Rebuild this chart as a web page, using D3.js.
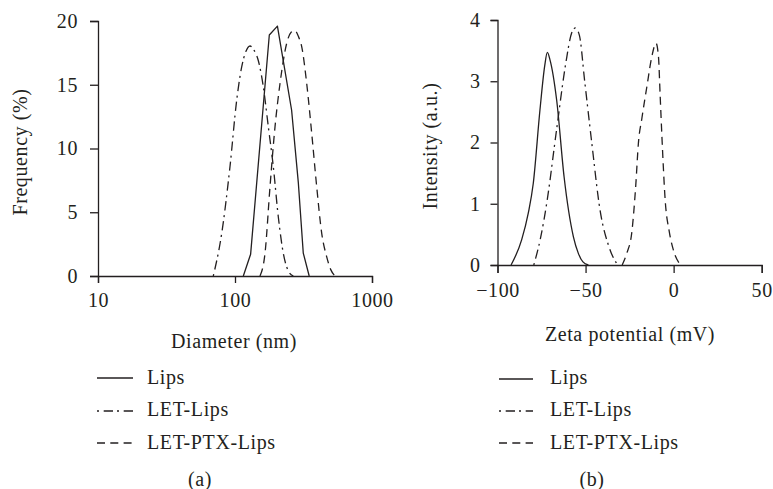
<!DOCTYPE html>
<html>
<head>
<meta charset="utf-8">
<script src="https://cdn.jsdelivr.net/npm/d3@7/dist/d3.min.js"></script>
<style>
  html, body { margin: 0; padding: 0; background: #fff; }
  svg text { font-family: "Liberation Serif", "Times New Roman", serif; fill: #231f20; }
</style>
</head>
<body>
<svg id="chart" width="773" height="489"></svg>
<script>
// ---------- DATA ----------
const seriesNames = ["Lips", "LET-Lips", "LET-PTX-Lips"];

// Panel (a): diameter (nm) vs frequency (%)
const sizeLips = [[115,0],[130,1.7],[178,18.9],[204,19.6],[259,13.0],[290,7.3],[315,1.8],[348,0]];
const sizeLetLips = [[69.4,0],[80,3.35],[91.9,8.57],[102.9,13.8],[111.9,16.4],[120,17.6],[128.7,18.04],[138,17.7],[147.9,16.9],[160.9,14.85],[175.1,11.7],[190.4,8.57],[207,4.65],[225.2,1.78],[245,0.4],[266.5,0]];
const sizeLetPtxLips = [[152.2,0],[165.6,1.78],[180.1,7.0],[195.9,11.7],[213.1,15.1],[238.4,18.25],[256,19.1],[274.2,19.24],[290,18.8],[306.8,17.99],[333.7,15.1],[363,11.2],[394.8,7.0],[429.5,3.35],[467.1,1.5],[500,0.5],[537,0]];

// Panel (b): zeta potential (mV) vs intensity (a.u.)
const zetaLips = [[-92.3,0],[-86.3,0.41],[-82.5,0.85],[-79.7,1.33],[-75.9,2.53],[-73.2,3.25],[-71.7,3.47],[-70.2,3.35],[-66.4,2.69],[-62.2,1.44],[-56.9,0.46],[-54.1,0.19],[-51.5,0.05],[-48.4,0]];
const zetaLetLips = [[-79.4,0],[-75.5,0.45],[-72.1,1.0],[-66.5,2.2],[-61.2,3.3],[-58,3.78],[-55.8,3.87],[-53.5,3.75],[-50.5,3.0],[-46.5,2.0],[-41.8,0.9],[-36.5,0.28],[-31.8,0]];
const zetaLetPtxLips = [[-29.2,0],[-26.5,0.2],[-23.8,0.52],[-21.5,1.3],[-20,1.99],[-18,2.4],[-15.2,2.91],[-12.4,3.4],[-10,3.62],[-8.6,3.4],[-7.7,2.8],[-6.5,2.0],[-4.8,1.06],[-2.5,0.55],[-0.2,0.25],[4,0]];

const sizeTicks = [10, 100, 1000];
const freqTicks = [0, 5, 10, 15, 20];
const zetaTicks = [-100, -50, 0, 50];
const intensityTicks = [0, 1, 2, 3, 4];

// ---------- STYLE ----------
const ink = "#231f20";
const dashStyles = [null, "2,4.7,9.3,4", "8,5.3"];
const fontSize = 20;
const letterSpacing = 0.6;

const svg = d3.select("#chart");

function styleAxis(g) {
  g.selectAll("path.domain").attr("stroke", ink).attr("stroke-width", 1.3);
  g.selectAll(".tick line").attr("stroke", ink).attr("stroke-width", 1.3);
  g.selectAll(".tick text")
    .attr("font-family", "Liberation Serif, serif")
    .attr("font-size", fontSize)
    .attr("letter-spacing", letterSpacing)
    .attr("fill", ink);
}

function panel(opts) {
  const g = svg.append("g");
  const x = opts.x, y = opts.y;

  const xAxis = d3.axisBottom(x).tickValues(opts.xTicks).tickSizeOuter(0)
    .tickSize(opts.xTickSize).tickPadding(opts.xTickPad)
    .tickFormat(opts.xFormat);
  const yAxis = d3.axisLeft(y).tickValues(opts.yTicks).tickSizeOuter(0)
    .tickSize(opts.yTickSize).tickPadding(opts.yTickPad)
    .tickFormat(d3.format("d"));

  g.append("g").attr("transform", `translate(0,${y.range()[0]})`).call(xAxis).call(styleAxis);
  g.append("g").attr("transform", `translate(${x.range()[0]},0)`).call(yAxis).call(styleAxis);

  opts.series.forEach((data, i) => {
    const line = d3.line()
      .x(d => x(d[0])).y(d => y(d[1]))
      .curve(opts.curves[i]);
    g.append("path")
      .datum(data)
      .attr("d", line)
      .attr("fill", "none")
      .attr("stroke", ink)
      .attr("stroke-width", 1.3)
      .attr("stroke-linejoin", "round")
      .attr("stroke-dasharray", dashStyles[i]);
  });

  // axis titles
  g.append("text")
    .attr("x", opts.xTitlePos[0]).attr("y", opts.xTitlePos[1])
    .attr("text-anchor", "middle")
    .attr("font-size", fontSize).attr("letter-spacing", letterSpacing)
    .text(opts.xTitle);
  g.append("text")
    .attr("transform", `translate(${opts.yTitlePos[0]},${opts.yTitlePos[1]}) rotate(-90)`)
    .attr("text-anchor", "middle")
    .attr("font-size", fontSize).attr("letter-spacing", letterSpacing)
    .text(opts.yTitle);

  // legend
  const leg = g.append("g");
  seriesNames.forEach((name, i) => {
    const ly = opts.legendLineY[i];
    leg.append("line")
      .attr("x1", opts.legendX[0]).attr("x2", opts.legendX[1])
      .attr("y1", ly).attr("y2", ly)
      .attr("stroke", ink).attr("stroke-width", 1.3)
      .attr("stroke-dasharray", dashStyles[i]);
    leg.append("text")
      .attr("x", opts.legendX[2]).attr("y", opts.legendTextY[i])
      .attr("font-size", fontSize).attr("letter-spacing", letterSpacing)
      .text(name);
  });

  g.append("text")
    .attr("x", opts.captionPos[0]).attr("y", opts.captionPos[1])
    .attr("text-anchor", "middle")
    .attr("font-size", fontSize).attr("letter-spacing", letterSpacing)
    .text(opts.caption);
}

panel({
  x: d3.scaleLog().domain([10, 1000]).range([98, 372]),
  y: d3.scaleLinear().domain([0, 20]).range([276, 21]),
  xTicks: sizeTicks, yTicks: freqTicks,
  xFormat: d3.format("d"),
  xTickSize: 7, xTickPad: 10, yTickSize: 8, yTickPad: 12,
  series: [sizeLips, sizeLetLips, sizeLetPtxLips],
  curves: [d3.curveLinear, d3.curveMonotoneX, d3.curveMonotoneX],
  xTitle: "Diameter (nm)", xTitlePos: [234, 348],
  yTitle: "Frequency (%)", yTitlePos: [27, 152],
  legendX: [97, 133, 147],
  legendLineY: [378, 411, 443],
  legendTextY: [384, 416, 449],
  caption: "(a)", captionPos: [200, 486]
});

panel({
  x: d3.scaleLinear().domain([-100, 50]).range([497.5, 761.7]),
  y: d3.scaleLinear().domain([0, 4]).range([265, 20]),
  xTicks: zetaTicks, yTicks: intensityTicks,
  xFormat: d => d3.format("d")(d).replace("-", "\u2212"),
  xTickSize: 8, xTickPad: 10, yTickSize: 7, yTickPad: 10,
  series: [zetaLips, zetaLetLips, zetaLetPtxLips],
  curves: [d3.curveMonotoneX, d3.curveMonotoneX, d3.curveMonotoneX],
  xTitle: "Zeta potential (mV)", xTitlePos: [630, 341],
  yTitle: "Intensity (a.u.)", yTitlePos: [437, 146],
  legendX: [499, 533, 550],
  legendLineY: [379, 411, 443],
  legendTextY: [384, 416, 449],
  caption: "(b)", captionPos: [592, 486]
});
</script>
</body>
</html>
